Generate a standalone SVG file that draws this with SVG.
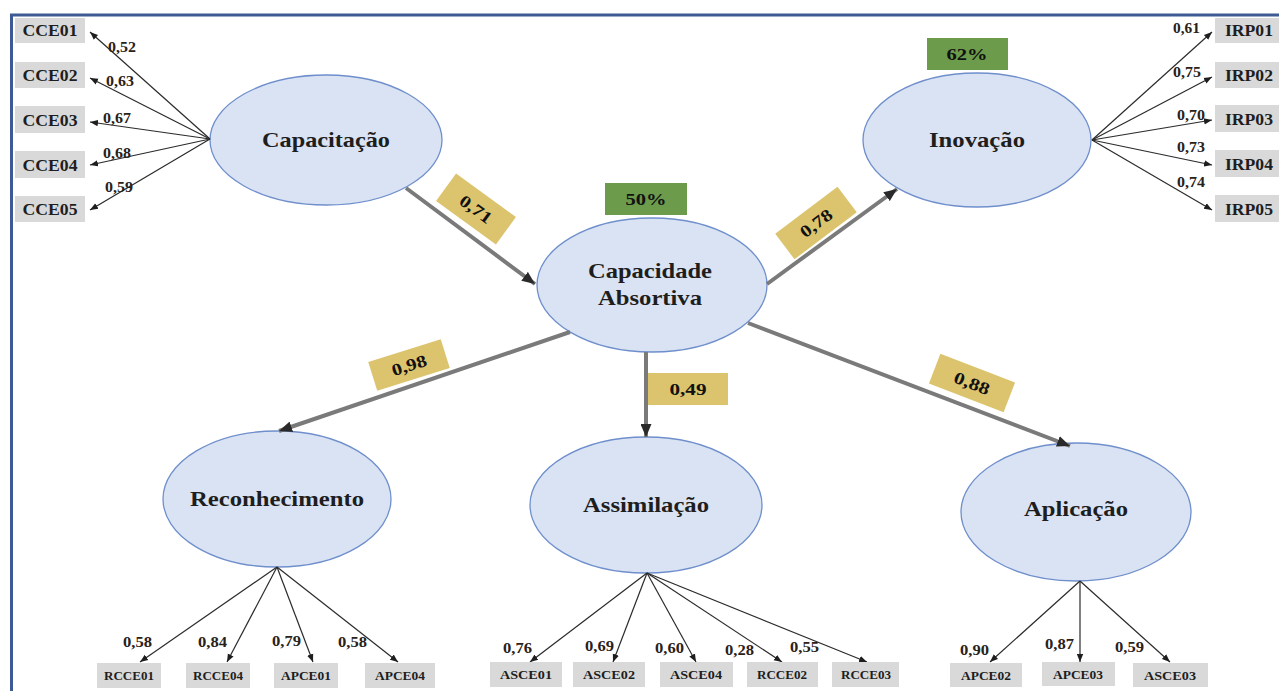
<svg xmlns="http://www.w3.org/2000/svg" width="1279" height="691" viewBox="0 0 1279 691">
<style>
.lat{fill:#dae3f3;stroke:#6f8fcc;stroke-width:1.3}
.lt{font-family:"Liberation Serif","Times New Roman",serif;font-weight:bold;font-size:21px;fill:#1e1e1e;text-anchor:middle}
.ind{fill:#d9d9d9}
.it{font-family:"Liberation Serif","Times New Roman",serif;font-weight:bold;font-size:16px;fill:#1e1e1e;text-anchor:middle}
.its{font-family:"Liberation Serif","Times New Roman",serif;font-weight:bold;font-size:12px;fill:#1e1e1e;text-anchor:middle}
.w{font-family:"Liberation Serif","Times New Roman",serif;font-weight:bold;font-size:14px;fill:#2a2218}
.yb{fill:#dcc46e}
.gb{fill:#6b9b4b}
.bt{font-family:"Liberation Serif","Times New Roman",serif;font-weight:bold;font-size:17px;fill:#111;text-anchor:middle}
.il{stroke:#2b2b2b;stroke-width:1.2;fill:none;marker-end:url(#sa)}
.sl{stroke:#7a7a7a;stroke-width:4;fill:none;marker-end:url(#la)}
</style>
<defs>
<marker id="sa" markerUnits="userSpaceOnUse" markerWidth="8" markerHeight="8" viewBox="0 0 8 8" refX="8" refY="4" orient="auto">
<path d="M0,0.8 L8,4 L0,7.2 z" fill="#1e1e1e"/>
</marker>
<marker id="la" markerUnits="userSpaceOnUse" markerWidth="13" markerHeight="11" viewBox="0 0 13 11" refX="13" refY="5.5" orient="auto">
<path d="M0,0 L13,5.5 L0,11 z" fill="#2a2a2a"/>
</marker>
</defs>
<rect x="0" y="0" width="1279" height="691" fill="#ffffff"/>
<g id="frame">
<line x1="10" y1="15" x2="1279" y2="15" stroke="#3d5a94" stroke-width="3"/>
<line x1="11.5" y1="14" x2="11.5" y2="691" stroke="#3d5a94" stroke-width="3"/>
</g>
<g id="capacitacao"><ellipse class="lat" cx="326" cy="140" rx="116" ry="65"/><text class="lt" x="326" y="147" textLength="128" lengthAdjust="spacingAndGlyphs">Capacitação</text></g>
<g id="inovacao"><ellipse class="lat" cx="977" cy="140" rx="114" ry="67"/><text class="lt" x="977" y="147" textLength="96" lengthAdjust="spacingAndGlyphs">Inovação</text></g>
<g id="capacidade-absortiva"><ellipse class="lat" cx="652" cy="285" rx="115" ry="67"/><text class="lt" x="650" y="278" textLength="124" lengthAdjust="spacingAndGlyphs">Capacidade</text><text class="lt" x="650" y="305" textLength="104" lengthAdjust="spacingAndGlyphs">Absortiva</text></g>
<g id="reconhecimento"><ellipse class="lat" cx="277" cy="499" rx="114" ry="68"/><text class="lt" x="277" y="506" textLength="174" lengthAdjust="spacingAndGlyphs">Reconhecimento</text></g>
<g id="assimilacao"><ellipse class="lat" cx="646" cy="505" rx="116" ry="68"/><text class="lt" x="646" y="512" textLength="126" lengthAdjust="spacingAndGlyphs">Assimilação</text></g>
<g id="aplicacao"><ellipse class="lat" cx="1076" cy="512" rx="115" ry="69"/><text class="lt" x="1076" y="516" textLength="104" lengthAdjust="spacingAndGlyphs">Aplicação</text></g>
<g id="connectors">
<line class="il" x1="210" y1="139" x2="90" y2="32"/>
<line class="il" x1="210" y1="139" x2="90" y2="78"/>
<line class="il" x1="210" y1="139" x2="90" y2="122"/>
<line class="il" x1="210" y1="139" x2="90" y2="165"/>
<line class="il" x1="210" y1="139" x2="90" y2="210"/>
<line class="il" x1="1092" y1="140" x2="1212" y2="32"/>
<line class="il" x1="1092" y1="140" x2="1212" y2="77"/>
<line class="il" x1="1092" y1="140" x2="1212" y2="120"/>
<line class="il" x1="1092" y1="140" x2="1212" y2="165"/>
<line class="il" x1="1092" y1="140" x2="1212" y2="210"/>
<line class="il" x1="277" y1="567" x2="140" y2="662"/>
<line class="il" x1="277" y1="567" x2="227" y2="662"/>
<line class="il" x1="277" y1="567" x2="313" y2="662"/>
<line class="il" x1="277" y1="567" x2="398" y2="662"/>
<line class="il" x1="647" y1="573" x2="530" y2="662"/>
<line class="il" x1="647" y1="573" x2="613" y2="662"/>
<line class="il" x1="647" y1="573" x2="696" y2="662"/>
<line class="il" x1="647" y1="573" x2="782" y2="662"/>
<line class="il" x1="647" y1="573" x2="867" y2="662"/>
<line class="il" x1="1080" y1="581" x2="990" y2="662"/>
<line class="il" x1="1080" y1="581" x2="1080" y2="662"/>
<line class="il" x1="1080" y1="581" x2="1170" y2="662"/>
<line class="sl" x1="406" y1="188" x2="535" y2="284"/>
<line class="sl" x1="767" y1="284" x2="897" y2="189"/>
<line class="sl" x1="570" y1="332" x2="279" y2="431"/>
<line class="sl" x1="646" y1="352" x2="646" y2="437"/>
<line class="sl" x1="748" y1="323" x2="1070" y2="446"/>
</g>
<g id="weights">
<text class="w" x="108" y="52" textLength="28" lengthAdjust="spacingAndGlyphs">0,52</text>
<text class="w" x="106" y="86" textLength="28" lengthAdjust="spacingAndGlyphs">0,63</text>
<text class="w" x="103" y="123" textLength="28" lengthAdjust="spacingAndGlyphs">0,67</text>
<text class="w" x="103" y="158" textLength="28" lengthAdjust="spacingAndGlyphs">0,68</text>
<text class="w" x="105" y="192" textLength="28" lengthAdjust="spacingAndGlyphs">0,59</text>
<text class="w" x="1173" y="33" textLength="27" lengthAdjust="spacingAndGlyphs">0,61</text>
<text class="w" x="1173" y="77" textLength="28" lengthAdjust="spacingAndGlyphs">0,75</text>
<text class="w" x="1177" y="120" textLength="28" lengthAdjust="spacingAndGlyphs">0,70</text>
<text class="w" x="1177" y="152" textLength="28" lengthAdjust="spacingAndGlyphs">0,73</text>
<text class="w" x="1177" y="187" textLength="28" lengthAdjust="spacingAndGlyphs">0,74</text>
<text class="w" x="123" y="647" textLength="29" lengthAdjust="spacingAndGlyphs">0,58</text>
<text class="w" x="198" y="647" textLength="29" lengthAdjust="spacingAndGlyphs">0,84</text>
<text class="w" x="272" y="646" textLength="29" lengthAdjust="spacingAndGlyphs">0,79</text>
<text class="w" x="338" y="647" textLength="29" lengthAdjust="spacingAndGlyphs">0,58</text>
<text class="w" x="503" y="653" textLength="29" lengthAdjust="spacingAndGlyphs">0,76</text>
<text class="w" x="585" y="651" textLength="29" lengthAdjust="spacingAndGlyphs">0,69</text>
<text class="w" x="655" y="653" textLength="29" lengthAdjust="spacingAndGlyphs">0,60</text>
<text class="w" x="725" y="655" textLength="29" lengthAdjust="spacingAndGlyphs">0,28</text>
<text class="w" x="790" y="652" textLength="29" lengthAdjust="spacingAndGlyphs">0,55</text>
<text class="w" x="960" y="655" textLength="29" lengthAdjust="spacingAndGlyphs">0,90</text>
<text class="w" x="1045" y="649" textLength="29" lengthAdjust="spacingAndGlyphs">0,87</text>
<text class="w" x="1115" y="652" textLength="29" lengthAdjust="spacingAndGlyphs">0,59</text>
</g>
<g id="path-labels">
<g transform="translate(476,209) rotate(36)"><rect class="yb" x="-37" y="-17" width="74" height="34"/><text class="bt" x="0" y="6" textLength="36" lengthAdjust="spacingAndGlyphs">0,71</text></g>
<g transform="translate(816,223) rotate(-37)"><rect class="yb" x="-39" y="-16" width="78" height="32"/><text class="bt" x="0" y="6" textLength="36" lengthAdjust="spacingAndGlyphs">0,78</text></g>
<g transform="translate(409,365) rotate(-17.5)"><rect class="yb" x="-38" y="-15" width="76" height="30"/><text class="bt" x="0" y="6" textLength="36" lengthAdjust="spacingAndGlyphs">0,98</text></g>
<g transform="translate(688,389)"><rect class="yb" x="-40" y="-16" width="80" height="32"/><text class="bt" x="0" y="6" textLength="37" lengthAdjust="spacingAndGlyphs">0,49</text></g>
<g transform="translate(972,383) rotate(21)"><rect class="yb" x="-40" y="-16" width="80" height="32"/><text class="bt" x="0" y="6" textLength="37" lengthAdjust="spacingAndGlyphs">0,88</text></g>
</g>
<g id="r2-50"><rect class="gb" x="605" y="183" width="82" height="32"/><text class="bt" x="646" y="205" textLength="41" lengthAdjust="spacingAndGlyphs">50%</text></g>
<g id="r2-62"><rect class="gb" x="927" y="38" width="81" height="32"/><text class="bt" x="967" y="60" textLength="41" lengthAdjust="spacingAndGlyphs">62%</text></g>
<g id="CCE01"><rect class="ind" x="15" y="18" width="70" height="25"/><text class="it" x="50" y="36" textLength="55" lengthAdjust="spacingAndGlyphs">CCE01</text></g>
<g id="CCE02"><rect class="ind" x="15" y="62" width="70" height="26"/><text class="it" x="50" y="81" textLength="55" lengthAdjust="spacingAndGlyphs">CCE02</text></g>
<g id="CCE03"><rect class="ind" x="15" y="106" width="70" height="27"/><text class="it" x="50" y="126" textLength="55" lengthAdjust="spacingAndGlyphs">CCE03</text></g>
<g id="CCE04"><rect class="ind" x="15" y="151" width="70" height="27"/><text class="it" x="50" y="171" textLength="55" lengthAdjust="spacingAndGlyphs">CCE04</text></g>
<g id="CCE05"><rect class="ind" x="15" y="196" width="70" height="26"/><text class="it" x="50" y="215" textLength="55" lengthAdjust="spacingAndGlyphs">CCE05</text></g>
<g id="IRP01"><rect class="ind" x="1215" y="18" width="64" height="25"/><text class="it" x="1249" y="36" textLength="48" lengthAdjust="spacingAndGlyphs">IRP01</text></g>
<g id="IRP02"><rect class="ind" x="1215" y="62" width="64" height="26"/><text class="it" x="1249" y="81" textLength="48" lengthAdjust="spacingAndGlyphs">IRP02</text></g>
<g id="IRP03"><rect class="ind" x="1215" y="105" width="64" height="27"/><text class="it" x="1249" y="125" textLength="48" lengthAdjust="spacingAndGlyphs">IRP03</text></g>
<g id="IRP04"><rect class="ind" x="1215" y="150" width="64" height="27"/><text class="it" x="1249" y="170" textLength="48" lengthAdjust="spacingAndGlyphs">IRP04</text></g>
<g id="IRP05"><rect class="ind" x="1215" y="195" width="64" height="27"/><text class="it" x="1249" y="215" textLength="48" lengthAdjust="spacingAndGlyphs">IRP05</text></g>
<g id="RCCE01"><rect class="ind" x="97" y="663" width="64" height="25"/><text class="its" x="129" y="680" textLength="50" lengthAdjust="spacingAndGlyphs">RCCE01</text></g>
<g id="RCCE04"><rect class="ind" x="186" y="663" width="64" height="25"/><text class="its" x="218" y="680" textLength="50" lengthAdjust="spacingAndGlyphs">RCCE04</text></g>
<g id="APCE01"><rect class="ind" x="274" y="663" width="64" height="25"/><text class="its" x="306" y="680" textLength="50" lengthAdjust="spacingAndGlyphs">APCE01</text></g>
<g id="APCE04"><rect class="ind" x="365" y="663" width="70" height="25"/><text class="its" x="400" y="680" textLength="50" lengthAdjust="spacingAndGlyphs">APCE04</text></g>
<g id="ASCE01"><rect class="ind" x="490" y="662" width="72" height="25"/><text class="its" x="526" y="679" textLength="52" lengthAdjust="spacingAndGlyphs">ASCE01</text></g>
<g id="ASCE02"><rect class="ind" x="573" y="662" width="72" height="25"/><text class="its" x="609" y="679" textLength="52" lengthAdjust="spacingAndGlyphs">ASCE02</text></g>
<g id="ASCE04"><rect class="ind" x="660" y="662" width="73" height="25"/><text class="its" x="696" y="679" textLength="52" lengthAdjust="spacingAndGlyphs">ASCE04</text></g>
<g id="RCCE02"><rect class="ind" x="747" y="662" width="71" height="25"/><text class="its" x="782" y="679" textLength="50" lengthAdjust="spacingAndGlyphs">RCCE02</text></g>
<g id="RCCE03"><rect class="ind" x="832" y="662" width="67" height="25"/><text class="its" x="866" y="679" textLength="50" lengthAdjust="spacingAndGlyphs">RCCE03</text></g>
<g id="APCE02"><rect class="ind" x="950" y="663" width="72" height="24"/><text class="its" x="986" y="680" textLength="50" lengthAdjust="spacingAndGlyphs">APCE02</text></g>
<g id="APCE03"><rect class="ind" x="1042" y="662" width="73" height="24"/><text class="its" x="1078" y="679" textLength="50" lengthAdjust="spacingAndGlyphs">APCE03</text></g>
<g id="ASCE03"><rect class="ind" x="1133" y="663" width="75" height="24"/><text class="its" x="1170" y="680" textLength="52" lengthAdjust="spacingAndGlyphs">ASCE03</text></g>
</svg>
